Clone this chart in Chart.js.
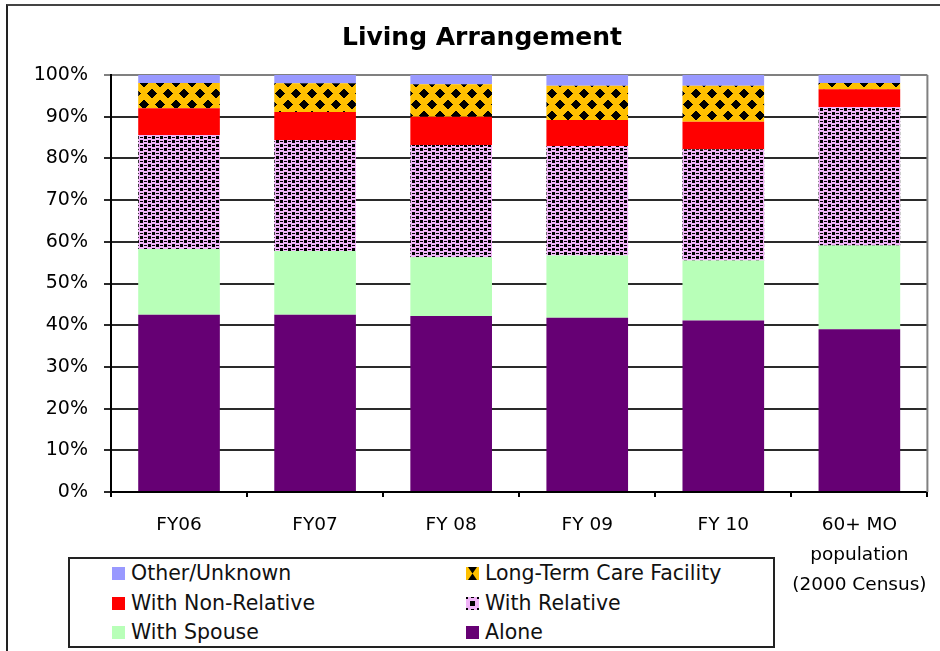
<!DOCTYPE html>
<html>
<head>
<meta charset="utf-8">
<script src="https://cdn.jsdelivr.net/npm/chart.js@4/dist/chart.umd.min.js"></script>
<style>
  html, body { margin: 0; padding: 0; background: #fff; }
  #wrap { position: relative; width: 940px; height: 651px; overflow: hidden; font-family: "DejaVu Sans", sans-serif; }
  #frame { position: absolute; left: 6px; top: 4px; width: 960px; height: 700px; border-top: 2px solid #444; border-left: 2px solid #222; }
  #title { position: absolute; left: 0; width: 964px; top: 22px; text-align: center; font-weight: bold; font-size: 25px; color: #000; }
  #legend { position: absolute; left: 68px; top: 557px; width: 703px; height: 87px; border: 2px solid #222; background: #fff; }
  .item { position: absolute; font-size: 20.5px; color: #111; line-height: 24px; white-space: nowrap; }
  .item canvas { position: absolute; left: 0; top: 6px; }
  .item span { position: absolute; left: 19px; top: 0; }
  canvas#c { position: absolute; left: 0; top: 0; }
</style>
</head>
<body>
<div id="wrap">
  <div id="frame"></div>
  <canvas id="c" width="940" height="651"></canvas>
  <div id="title">Living Arrangement</div>
  <div id="legend"></div>
</div>
<script>
// ---- Data ----
const categories = ['FY06', 'FY07', 'FY 08', 'FY 09', 'FY 10', ['60+ MO', 'population', '(2000 Census)']];
const seriesNames = ['Alone', 'With Spouse', 'With Relative', 'With Non-Relative', 'Long-Term Care Facility', 'Other/Unknown'];
const alone       = [42.5, 42.5, 42.2, 41.8, 41.1, 39.0];
const withSpouse  = [15.8, 15.3, 14.1, 14.9, 14.4, 20.1];
const withRelative= [27.3, 26.6, 26.9, 26.3, 26.7, 33.2];
const withNonRel  = [6.4, 6.7, 6.8, 6.2, 6.6, 4.3];
const longTermCare= [6.1, 6.9, 7.8, 8.2, 8.6, 1.5];
const otherUnknown= [1.9, 2.0, 2.2, 2.6, 2.6, 1.9];
const yTicks = [0, 10, 20, 30, 40, 50, 60, 70, 80, 90, 100];

// ---- Patterns ----
function makeTile(w, h, bg, fn) {
  const c = document.createElement('canvas');
  c.width = w; c.height = h;
  const x = c.getContext('2d');
  x.fillStyle = bg; x.fillRect(0, 0, w, h);
  x.fillStyle = '#000';
  fn(x, w, h);
  return c;
}
// Orange with black diamond lattice
const ltcTile = makeTile(16, 22, '#FFC000', (x, w, h) => {
  const centers = [[8, 5.5], [0, 16.5], [16, 16.5], [8, -5.5], [0, -5.5], [16, -5.5], [8, 27.5]];
  for (let py = 0; py < h; py++) {
    for (let px = 0; px < w; px++) {
      for (const [cx, cy] of centers) {
        const d = Math.abs(px + 0.5 - cx) + Math.abs(py + 0.5 - cy);
        if (d <= 5) { x.fillRect(px, py, 1, 1); break; }
      }
    }
  }
});
// Pink with black squares and dashes
const relTile = makeTile(8, 8, '#F0B4F8', (x) => {
  x.fillRect(0, 0, 3, 3);
  x.fillRect(4, 4, 3, 3);
  x.fillRect(4, 1, 3, 1);
  x.fillRect(0, 5, 3, 1);
});
const cctx = document.getElementById('c').getContext('2d');
const ltcPattern = cctx.createPattern(ltcTile, 'repeat');
const relPattern = cctx.createPattern(relTile, 'repeat');

const colors = {
  'Alone': '#660074',
  'With Spouse': '#B8FFB8',
  'With Relative': relPattern,
  'With Non-Relative': '#FF0000',
  'Long-Term Care Facility': ltcPattern,
  'Other/Unknown': '#9999FF'
};
const values = [alone, withSpouse, withRelative, withNonRel, longTermCare, otherUnknown];

const datasets = seriesNames.map((n, i) => ({
  label: n,
  data: values[i],
  backgroundColor: colors[n],
  borderWidth: 0,
  barPercentage: 0.6,
  categoryPercentage: 1.0
}));

const plotBorder = {
  id: 'plotBorder',
  beforeDatasetsDraw(chart) {
    const { ctx, chartArea: a } = chart;
    ctx.save();
    ctx.strokeStyle = '#808080';
    ctx.lineWidth = 2;
    ctx.beginPath();
    ctx.moveTo(a.right, a.top);
    ctx.lineTo(a.right, a.bottom);
    ctx.stroke();
    ctx.restore();
  }
};

const font = { family: '"DejaVu Sans", sans-serif', size: 18 };

new Chart(document.getElementById('c'), {
  type: 'bar',
  data: { labels: categories, datasets },
  plugins: [plotBorder],
  options: {
    responsive: false,
    animation: false,
    layout: { padding: { top: 75, right: 5, left: 0, bottom: 0 } },
    plugins: { legend: { display: false }, title: { display: false }, tooltip: { enabled: false } },
    scales: {
      x: {
        stacked: true,
        offset: true,
        grid: { display: true, drawOnChartArea: false, drawTicks: true, tickLength: 5, offset: true, color: '#000', lineWidth: 2 },
        border: { display: true, color: '#000', width: 2 },
        ticks: { color: '#000', font: { ...font, size: 18.5, lineHeight: 1.63 }, padding: 13, autoSkip: false, maxRotation: 0, minRotation: 0 },
        afterFit(s) { s.height = 159; }
      },
      y: {
        stacked: true,
        min: 0, max: 100,
        afterBuildTicks(s) { s.ticks = yTicks.map(v => ({ value: v })); },
        grid: {
          color: (c) => (c.tick && c.tick.value === 100 ? '#808080' : '#2a2a2a'),
          lineWidth: 2, tickLength: 7, drawTicks: true
        },
        border: { display: true, color: '#000', width: 2 },
        ticks: { color: '#000', font: { ...font, size: 19 }, padding: 16, callback: (v) => v + '%' },
        afterFit(s) { s.width = 111; }
      }
    }
  }
});

// ---- HTML legend ----
function swatch(kind) {
  const c = document.createElement('canvas');
  c.width = 13; c.height = 13;
  const x = c.getContext('2d');
  if (kind === 'Long-Term Care Facility') {
    x.fillStyle = '#FFC000'; x.fillRect(0, 0, 13, 13);
    x.fillStyle = '#000';
    x.beginPath(); x.moveTo(2, 0); x.lineTo(11, 0); x.lineTo(6.5, 6.5); x.closePath(); x.fill();
    x.beginPath(); x.moveTo(2, 13); x.lineTo(11, 13); x.lineTo(6.5, 6.5); x.closePath(); x.fill();
  } else if (kind === 'With Relative') {
    x.fillStyle = '#F0B4F8'; x.fillRect(0, 0, 13, 13);
    x.fillStyle = '#000';
    x.fillRect(4, 4, 5, 5);
    x.fillRect(0, 0, 2, 2); x.fillRect(11, 0, 2, 2); x.fillRect(0, 11, 2, 2); x.fillRect(11, 11, 2, 2);
    x.fillRect(5, 0, 3, 1); x.fillRect(5, 12, 3, 1);
  } else {
    x.fillStyle = colors[kind]; x.fillRect(0, 0, 13, 13);
  }
  return c;
}
const legendOrder = [
  ['Other/Unknown', 0, 0], ['Long-Term Care Facility', 1, 0],
  ['With Non-Relative', 0, 1], ['With Relative', 1, 1],
  ['With Spouse', 0, 2], ['Alone', 1, 2]
];
const lg = document.getElementById('legend');
legendOrder.forEach(([name, col, row]) => {
  const d = document.createElement('div');
  d.className = 'item';
  d.style.left = (col === 0 ? 42 : 396) + 'px';
  d.style.top = (2 + row * 29.5) + 'px';
  d.appendChild(swatch(name));
  const s = document.createElement('span');
  s.textContent = name;
  d.appendChild(s);
  lg.appendChild(d);
});
</script>
</body>
</html>
